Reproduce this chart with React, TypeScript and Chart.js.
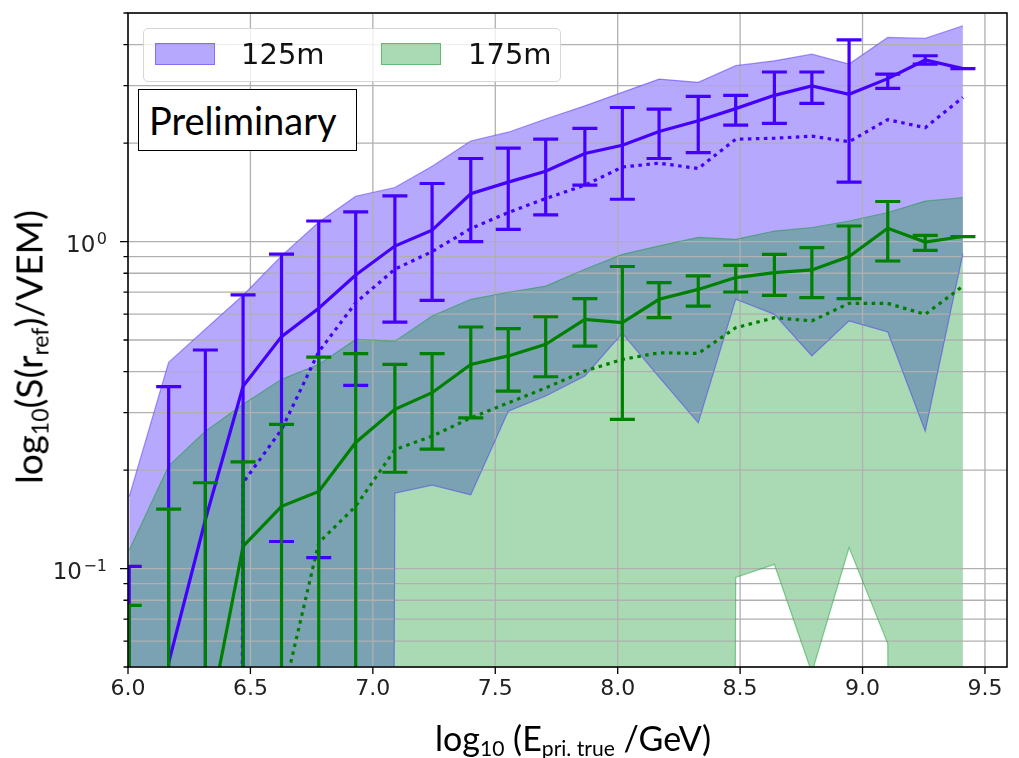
import React, { useEffect, useRef } from 'react';
import { Chart, registerables } from 'chart.js';

Chart.register(...registerables);

// log10(E/GeV) bin centres
const energy = [
  6.005, 6.166, 6.316, 6.47, 6.627, 6.779, 6.93, 7.09, 7.242, 7.4, 7.553, 7.706,
  7.866, 8.019, 8.169, 8.329, 8.482, 8.64, 8.793, 8.945, 9.103, 9.256, 9.41,
];

// 125m: mean with error bars, dotted curve, shaded band (0 = below the axis)
const blueMean = [
  null, 0.0515, 0.141, 0.361, 0.512, 0.625, 0.79, 0.969, 1.083, 1.4, 1.52, 1.64,
  1.86, 1.97, 2.17, 2.34, 2.55, 2.8, 2.99, 2.82, 3.15, 3.59, 3.38,
];
const blueErrLow = [
  0, 0, 0, 0, 0.121, 0.108, 0.363, 0.567, 0.661, 1.0, 1.09, 1.206,
  1.487, 1.347, 1.795, 1.87, 2.27, 2.3, 2.645, 1.52, 2.94, 3.49, 3.38,
];
const blueErrHigh = [
  0.1016, 0.36, 0.466, 0.687, 0.915, 1.156, 1.232, 1.379, 1.505, 1.795, 1.93, 2.056,
  2.22, 2.57, 2.54, 2.78, 2.8, 3.3, 3.3, 4.14, 3.25, 3.7, 3.38,
];
const blueDotted = [
  0, 0, 0, 0.183, 0.266, 0.46, 0.65, 0.823, 0.932, 1.096, 1.227, 1.354,
  1.487, 1.69, 1.737, 1.673, 2.056, 2.07, 2.1, 2.02, 2.36, 2.23, 2.76,
];
const blueBandLow = [
  0, 0, 0, 0, 0, 0, 0, 0.17, 0.18, 0.168, 0.303, 0.337,
  0.388, 0.524, 0.385, 0.279, 0.666, 0.599, 0.447, 0.572, 0.529, 0.263, 0.92,
];
const blueBandHigh = [
  0.166, 0.427, 0.54, 0.685, 0.904, 1.146, 1.376, 1.463, 1.7, 2.03, 2.16, 2.37,
  2.6, 2.86, 3.14, 3.07, 3.45, 3.57, 3.74, 3.49, 4.21, 4.18, 4.57,
];

// 175m
const greenMean = [
  null, null, 0.03, 0.117, 0.155, 0.172, 0.243, 0.307, 0.345, 0.421, 0.447, 0.485,
  0.578, 0.565, 0.666, 0.714, 0.776, 0.804, 0.819, 0.9, 1.098, 0.997, 1.036,
];
const greenErrLow = [
  0, 0, 0, 0, 0, 0, 0, 0.197, 0.232, 0.289, 0.349, 0.386,
  0.479, 0.286, 0.585, 0.635, 0.701, 0.685, 0.674, 0.669, 0.872, 0.94, 1.036,
];
const greenErrHigh = [
  0.0772, 0.152, 0.183, 0.212, 0.276, 0.443, 0.454, 0.421, 0.454, 0.548, 0.542, 0.589,
  0.669, 0.839, 0.749, 0.785, 0.846, 0.914, 0.958, 1.116, 1.326, 1.045, 1.036,
];
const greenDotted = [
  0, 0, 0, 0, 0.039, 0.12, 0.155, 0.231, 0.254, 0.289, 0.321, 0.357,
  0.402, 0.436, 0.457, 0.455, 0.545, 0.585, 0.572, 0.647, 0.647, 0.599, 0.731,
];
const greenBandLow = [
  0, 0, 0, 0, 0, 0, 0, 0, 0, 0, 0, 0,
  0, 0, 0, 0, 0.094, 0.103, 0.048, 0.116, 0.059, 0, 0,
];
const greenBandHigh = [
  0.114, 0.206, 0.263, 0.318, 0.379, 0.421, 0.502, 0.496, 0.592, 0.666, 0.7, 0.731,
  0.823, 0.914, 0.97, 1.03, 1.016, 1.077, 1.104, 1.156, 1.227, 1.33, 1.364,
];

const xTicks = [6.0, 6.5, 7.0, 7.5, 8.0, 8.5, 9.0, 9.5];
const yMajor = [0.1, 1];
const yMajorExp = ['\u22121', '0'];
const yGrid = [
  0.05, 0.06, 0.07, 0.08, 0.09, 0.1, 0.2, 0.3, 0.4, 0.5, 0.6, 0.7, 0.8, 0.9,
  1, 2, 3, 4, 5,
];

const BLUE = '#4400ff';
const GREEN = '#008000';
const BLUE_FILL = 'rgba(80, 50, 250, 0.42)';
const BLUE_EDGE = 'rgba(80, 50, 250, 0.5)';
const GREEN_FILL = 'rgba(10, 150, 40, 0.35)';
const GREEN_EDGE = 'rgba(10, 150, 40, 0.45)';

// zeros sit far below the log axis so the lines drop straight down like matplotlib's clip
const floorLog = (v: number | null) => (v === null ? null : v > 0 ? v : 1e-30);
const pts = (ys: (number | null)[]) => energy.map((x, i) => ({ x, y: floorLog(ys[i]) }));

const errorSets = [
  { low: blueErrLow, high: blueErrHigh, color: BLUE },
  { low: greenErrLow, high: greenErrHigh, color: GREEN },
];

const framePlugin = {
  id: 'frame',
  beforeDatasetsDraw(chart: any) {
    // grid sits above the shaded bands but below the lines
    const { ctx, chartArea: a, scales } = chart;
    ctx.save();
    ctx.strokeStyle = '#b0b0b0';
    ctx.lineWidth = 1.3;
    ctx.beginPath();
    xTicks.forEach((v) => {
      const px = scales.x.getPixelForValue(v);
      ctx.moveTo(px, a.top);
      ctx.lineTo(px, a.bottom);
    });
    yGrid.forEach((v) => {
      const py = scales.y.getPixelForValue(v);
      ctx.moveTo(a.left, py);
      ctx.lineTo(a.right, py);
    });
    ctx.stroke();
    ctx.restore();
  },
  afterDatasetsDraw(chart: any) {
    const { ctx, chartArea: a, scales } = chart;
    const cap = 12.5;
    ctx.save();
    ctx.beginPath();
    ctx.rect(a.left, a.top, a.right - a.left, a.bottom - a.top);
    ctx.clip();
    ctx.lineWidth = 3.2;
    errorSets.forEach((set) => {
      ctx.strokeStyle = set.color;
      energy.forEach((e, i) => {
        const px = scales.x.getPixelForValue(e);
        const pl = scales.y.getPixelForValue(floorLog(set.low[i]));
        const ph = scales.y.getPixelForValue(set.high[i]);
        ctx.beginPath();
        ctx.moveTo(px, pl);
        ctx.lineTo(px, ph);
        if (set.low[i] > 0) {
          ctx.moveTo(px - cap, pl);
          ctx.lineTo(px + cap, pl);
        }
        ctx.moveTo(px - cap, ph);
        ctx.lineTo(px + cap, ph);
        ctx.stroke();
      });
    });
    ctx.restore();
  },
  afterDraw(chart: any) {
    const { ctx, chartArea: a, scales } = chart;
    ctx.save();
    ctx.strokeStyle = '#000';
    ctx.lineWidth = 1.3;
    ctx.beginPath();
    xTicks.forEach((v) => {
      const px = scales.x.getPixelForValue(v);
      ctx.moveTo(px, a.bottom);
      ctx.lineTo(px, a.bottom + 7);
    });
    yGrid.forEach((v) => {
      const py = scales.y.getPixelForValue(v);
      const len = yMajor.includes(v) ? 8 : 4.5;
      ctx.moveTo(a.left, py);
      ctx.lineTo(a.left - len, py);
    });
    ctx.stroke();
    ctx.lineWidth = 1.5;
    ctx.strokeRect(a.left, a.top, a.right - a.left, a.bottom - a.top);

    // power-of-ten labels with a real superscript, like matplotlib's mathtext
    ctx.fillStyle = '#222';
    ctx.textAlign = 'left';
    ctx.textBaseline = 'alphabetic';
    const right = a.left - 21;
    yMajor.forEach((v, i) => {
      const py = scales.y.getPixelForValue(v);
      ctx.font = '16px "DejaVu Sans"';
      const ws = ctx.measureText(yMajorExp[i]).width;
      ctx.fillText(yMajorExp[i], right - ws, py + 2.7);
      ctx.font = '23px "DejaVu Sans"';
      const wb = ctx.measureText('10').width;
      ctx.fillText('10', right - ws - 1.5 - wb, py + 10);
    });
    ctx.restore();
  },
};

const line = (data: any[], color: string, dotted: boolean, order: number) => ({
  data,
  borderColor: color,
  borderWidth: 3.2,
  borderDash: dotted ? [3.5, 4.5] : [],
  pointRadius: 0,
  fill: false,
  tension: 0,
  order,
});

const band = (low: number[], high: number[], fillColor: string, edge: string, order: number) => [
  { data: pts(low), borderColor: edge, borderWidth: 1.2, pointRadius: 0, fill: false, tension: 0, order },
  {
    data: pts(high),
    borderColor: edge,
    borderWidth: 1.2,
    pointRadius: 0,
    fill: '-1',
    backgroundColor: fillColor,
    tension: 0,
    order,
  },
];

const LineChart: React.FC = () => {
  const canvasRef = useRef<HTMLCanvasElement>(null);
  const chartRef = useRef<Chart | null>(null);

  useEffect(() => {
    if (!canvasRef.current) return;
    if (chartRef.current) chartRef.current.destroy();
    chartRef.current = new Chart(canvasRef.current, {
      type: 'line',
      data: {
        datasets: [
          ...band(blueBandLow, blueBandHigh, BLUE_FILL, BLUE_EDGE, 20),
          ...band(greenBandLow, greenBandHigh, GREEN_FILL, GREEN_EDGE, 10),
          line(pts(blueMean), BLUE, false, 2),
          line(pts(blueDotted), BLUE, true, 2),
          line(pts(greenMean), GREEN, false, 1),
          line(pts(greenDotted), GREEN, true, 1),
        ] as any,
      },
      options: {
        animation: false,
        responsive: true,
        maintainAspectRatio: false,
        layout: { padding: { top: 13, right: 12, left: 0, bottom: 0 } },
        plugins: {
          legend: { display: false },
          tooltip: { enabled: false },
          filler: { drawTime: 'beforeDatasetsDraw' },
        } as any,
        scales: {
          x: {
            type: 'linear',
            min: 6.0,
            max: 9.59,
            grid: { display: false, drawTicks: false },
            border: { display: false },
            afterBuildTicks: (scale: any) => {
              scale.ticks = xTicks.map((value) => ({ value }));
            },
            afterFit: (scale: any) => {
              scale.height = 91;
              scale.paddingLeft = 0;
              scale.paddingRight = 0;
            },
            ticks: {
              autoSkip: false,
              maxRotation: 0,
              padding: 9,
              color: '#222',
              font: { family: 'DejaVu Sans', size: 22 },
              callback: (v: any) => Number(v).toFixed(1),
            },
          },
          y: {
            type: 'logarithmic',
            min: 0.05,
            max: 5,
            bounds: 'data',
            grid: { display: false, drawTicks: false },
            border: { display: false },
            afterBuildTicks: (scale: any) => {
              scale.ticks = yMajor.map((value) => ({ value }));
            },
            afterFit: (scale: any) => {
              scale.width = 128;
              scale.paddingTop = 0;
              scale.paddingBottom = 0;
            },
            ticks: { display: false },
          },
        } as any,
      },
      plugins: [framePlugin],
    });
    return () => {
      if (chartRef.current) {
        chartRef.current.destroy();
        chartRef.current = null;
      }
    };
  }, []);

  return (
    <div style={{ position: 'absolute', left: 0, top: 0, width: 1019, height: 758 }}>
      <canvas ref={canvasRef}></canvas>
    </div>
  );
};

const sub: React.CSSProperties = { fontSize: '0.62em', verticalAlign: '-0.25em', lineHeight: 0 };

const App: React.FC = () => (
  <div
    style={{
      position: 'fixed',
      left: 0,
      top: 0,
      width: 1019,
      height: 758,
      background: '#fff',
      overflow: 'hidden',
    }}
  >
    <LineChart />
    {/* legend */}
    <div
      style={{
        position: 'absolute',
        left: 143,
        top: 28,
        width: 416,
        height: 52,
        border: '1px solid #d6d6d6',
        borderRadius: 5,
        background: 'rgba(255,255,255,0.8)',
        fontFamily: 'DejaVu Sans',
        fontSize: 29,
        color: '#111',
      }}
    >
      <div style={{ position: 'absolute', left: 11, top: 14, width: 58, height: 20, background: BLUE_FILL, border: `1px solid ${BLUE_EDGE}` }} />
      <div style={{ position: 'absolute', left: 97, top: 7, lineHeight: '36px' }}>125m</div>
      <div style={{ position: 'absolute', left: 237, top: 14, width: 58, height: 20, background: GREEN_FILL, border: `1px solid ${GREEN_EDGE}` }} />
      <div style={{ position: 'absolute', left: 324, top: 7, lineHeight: '36px' }}>175m</div>
    </div>
    <div
      style={{
        position: 'absolute',
        left: 138,
        top: 89,
        width: 219,
        height: 62,
        border: '1px solid #000',
        background: '#fff',
        fontFamily: 'Lato',
        fontSize: 38,
        lineHeight: '60px',
        paddingLeft: 10,
        boxSizing: 'border-box',
        color: '#000',
      }}
    >
      Preliminary
    </div>
    {/* axis titles */}
    <div
      style={{
        position: 'absolute',
        left: 28,
        top: 347,
        transform: 'translate(-50%, -50%) rotate(-90deg)',
        whiteSpace: 'nowrap',
        fontFamily: 'Lato',
        fontSize: 37,
        color: '#000',
      }}
    >
      log<span style={sub}>10</span>(S(r<span style={sub}>ref</span>)/VEM)
    </div>
    <div
      style={{
        position: 'absolute',
        left: 573,
        top: 737,
        transform: 'translate(-50%, -50%)',
        whiteSpace: 'nowrap',
        fontFamily: 'Lato',
        fontSize: 34,
        color: '#000',
      }}
    >
      log<span style={sub}>10</span> (E<span style={sub}>pri. true</span> /GeV)
    </div>
  </div>
);

export default App;
